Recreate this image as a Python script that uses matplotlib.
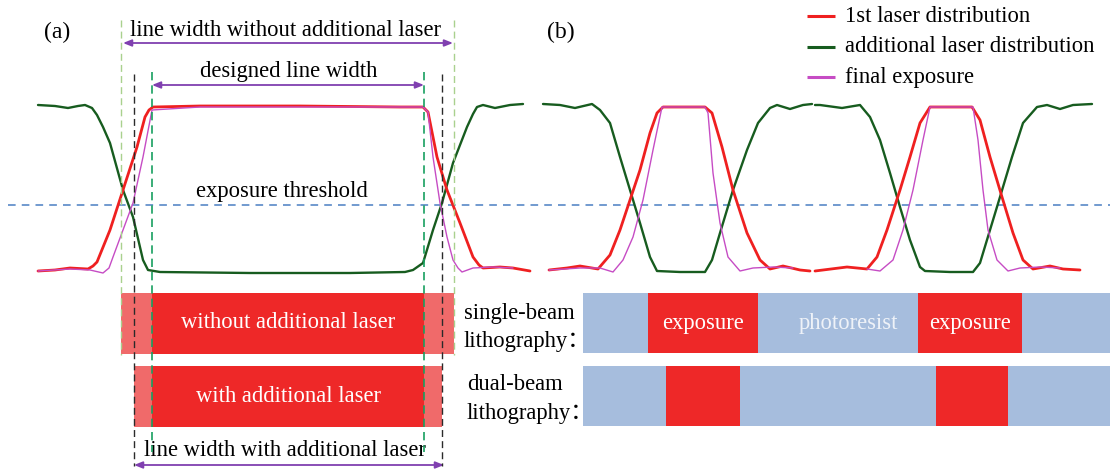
import numpy as np
import matplotlib.pyplot as plt
from matplotlib.patches import Rectangle

plt.rcParams['font.family'] = ['Liberation Serif', 'Noto Sans CJK SC', 'DejaVu Sans']

# curves (pixel units, y grows downward)
# panel (a)
ga_x = [38, 55, 68, 78, 85, 92, 97, 103, 110, 123, 133, 143, 148, 160, 250, 350, 405, 413, 423, 433, 442, 453, 467, 473, 477, 483, 495, 510, 523]
ga_y = [105, 106, 108, 106, 105, 108, 115, 127, 143, 190, 217, 260, 270, 272, 273, 273, 272, 270, 263, 230, 203, 163, 127, 114, 107, 105, 108, 105, 104]
ra_x = [38, 55, 70, 88, 93, 97, 110, 123, 137, 145, 149, 153, 200, 300, 400, 423, 428, 437, 447, 460, 473, 479, 483, 500, 513, 530]
ra_y = [271, 270, 268, 269, 266, 262, 230, 190, 147, 117, 110, 107, 106, 106, 107, 107, 112, 157, 190, 223, 257, 265, 268, 267, 268, 271]
ma_x = [38, 70, 90, 103, 109, 113, 123, 133, 143, 152, 200, 300, 400, 423, 428, 433, 440, 447, 453, 458, 462, 473, 493, 513]
ma_y = [271, 269, 270, 273, 268, 257, 230, 203, 157, 110, 107, 107, 107, 107, 112, 157, 203, 237, 260, 268, 272, 268, 267, 268]

# panel (b), two halves
gb1_x = [543, 560, 575, 592, 600, 610, 620, 630, 640, 650, 657, 680, 705, 712, 720, 733, 747, 758, 770, 777, 790, 803, 812]
gb1_y = [104, 105, 108, 104, 110, 123, 157, 190, 223, 257, 271, 272, 272, 260, 233, 190, 150, 123, 108, 105, 109, 105, 104]
gb2_x = [815, 820, 842, 860, 870, 880, 890, 900, 910, 920, 925, 950, 973, 980, 990, 1000, 1012, 1023, 1037, 1047, 1060, 1073, 1092]
gb2_y = [105, 105, 108, 105, 117, 140, 173, 207, 240, 267, 271, 272, 272, 263, 230, 197, 157, 123, 107, 105, 109, 105, 104]
rb1_x = [549, 567, 580, 598, 610, 620, 630, 640, 650, 657, 663, 685, 705, 712, 722, 733, 747, 760, 770, 783, 800, 810]
rb1_y = [270, 268, 266, 269, 255, 230, 200, 170, 133, 113, 107, 107, 107, 113, 147, 190, 233, 260, 269, 266, 270, 271]
rb2_x = [815, 847, 867, 877, 887, 900, 910, 920, 930, 950, 972, 980, 990, 1002, 1013, 1023, 1033, 1050, 1063, 1080]
rb2_y = [271, 267, 269, 257, 230, 190, 157, 123, 107, 107, 107, 120, 157, 197, 233, 260, 269, 266, 269, 270]
mb1_x = [549, 580, 600, 613, 623, 633, 643, 653, 662, 685, 705, 708, 713, 720, 728, 740, 753, 773, 793]
mb1_y = [270, 268, 268, 272, 260, 237, 200, 150, 107, 107, 107, 113, 173, 223, 257, 271, 268, 267, 268]
mb2_x = [867, 880, 893, 903, 913, 923, 930, 950, 973, 978, 983, 988, 997, 1008, 1020, 1040, 1060]
mb2_y = [269, 271, 260, 230, 190, 140, 107, 107, 107, 140, 190, 230, 260, 271, 268, 267, 268]

threshold_y = 205

# line width marks in panel (a)
outer_x = [121, 454]      # without additional laser
black_x = [134, 442]      # with additional laser
design_x = [152, 424]     # designed line width

# exposed regions in the bars of panel (b)
single_red = [(648, 758), (918, 1022)]
dual_red = [(666, 740), (936, 1008)]

RED = '#ef2020'
GREEN = '#175c1f'
MAGENTA = '#c64cc4'
PURPLE = '#8040b0'
BAR_RED = '#ee2828'
BAR_LIGHT = '#f06a6a'
BAR_BLUE = '#a6bddd'
FS = 16.3

fig = plt.figure(figsize=(11.1, 4.71), dpi=100)
ax = fig.add_axes([0, 0, 1, 1])
ax.set_xlim(0, 1110)
ax.set_ylim(471, 0)
ax.axis('off')

curve_kw = dict(solid_joinstyle='round', solid_capstyle='round')
for xs, ys in [(ga_x, ga_y), (gb1_x, gb1_y), (gb2_x, gb2_y)]:
    ax.plot(xs, ys, color=GREEN, lw=1.7, zorder=4, **curve_kw)
for xs, ys in [(ra_x, ra_y), (rb1_x, rb1_y), (rb2_x, rb2_y)]:
    ax.plot(xs, ys, color=RED, lw=2.0, zorder=5, **curve_kw)
for xs, ys in [(ma_x, ma_y), (mb1_x, mb1_y), (mb2_x, mb2_y)]:
    ax.plot(xs, ys, color=MAGENTA, lw=1.0, zorder=6, **curve_kw)

# exposure threshold
ax.plot([8, 1110], [threshold_y, threshold_y], color='#4a7ec2', lw=1.1,
        dashes=(5, 4), zorder=3)
ax.text(282, 192, 'exposure threshold', fontsize=FS, ha='center', va='center')

# vertical guide lines
for x in outer_x:
    ax.plot([x, x], [20, 355], color='#a9d18e', lw=1.0, dashes=(5, 3), zorder=7)
for x in black_x:
    ax.plot([x, x], [74, 466], color='#2a2a2a', lw=1.0, dashes=(5, 3), zorder=7)
for x in design_x:
    ax.plot([x, x], [72, 452], color='#18a060', lw=1.2, dashes=(5, 3), zorder=7)

arrow_kw = dict(arrowstyle='<|-|>,head_length=0.5,head_width=0.2', color=PURPLE, lw=1.3,
                shrinkA=0, shrinkB=0)
ax.annotate('', xy=(outer_x[0] + 2, 43), xytext=(outer_x[1] - 1, 43), arrowprops=arrow_kw)
ax.annotate('', xy=(design_x[0], 85), xytext=(design_x[1], 85), arrowprops=arrow_kw)
ax.annotate('', xy=(black_x[0], 465), xytext=(black_x[1] + 2, 465), arrowprops=arrow_kw)
ax.text(285, 30, 'line width without additional laser', fontsize=FS, ha='center', va='center')
ax.text(289, 71, 'designed line width', fontsize=FS, ha='center', va='center')
ax.text(285, 451, 'line width with additional laser', fontsize=FS, ha='center', va='center')

ax.text(57, 32, '(a)', fontsize=17, ha='center', va='center')
ax.text(561, 32, '(b)', fontsize=17, ha='center', va='center')

# bars of panel (a)
ax.add_patch(Rectangle((outer_x[0], 293), outer_x[1] - outer_x[0], 61, color=BAR_LIGHT, lw=0, zorder=2))
ax.add_patch(Rectangle((design_x[0], 293), design_x[1] - design_x[0], 61, color=BAR_RED, lw=0, zorder=2))
ax.add_patch(Rectangle((black_x[0], 366), black_x[1] - black_x[0], 61, color=BAR_LIGHT, lw=0, zorder=2))
ax.add_patch(Rectangle((design_x[0], 366), design_x[1] - design_x[0], 61, color=BAR_RED, lw=0, zorder=2))
ax.text(288, 322, 'without additional laser', fontsize=FS, color='white', ha='center', va='center', zorder=8)
ax.text(288, 396, 'with additional laser', fontsize=FS, color='white', ha='center', va='center', zorder=8)

# bars of panel (b)
ax.add_patch(Rectangle((583, 293), 527, 60, color=BAR_BLUE, lw=0, zorder=2))
ax.add_patch(Rectangle((583, 366), 527, 60, color=BAR_BLUE, lw=0, zorder=2))
for a, b in single_red:
    ax.add_patch(Rectangle((a, 293), b - a, 60, color=BAR_RED, lw=0, zorder=3))
    ax.text((a + b) / 2, 323, 'exposure', fontsize=FS, color='white', ha='center', va='center', zorder=8)
for a, b in dual_red:
    ax.add_patch(Rectangle((a, 366), b - a, 60, color=BAR_RED, lw=0, zorder=3))
ax.text(848, 323, 'photoresist', fontsize=FS, color='#eef2f8', ha='center', va='center', zorder=8)

ax.text(464, 313, 'single-beam', fontsize=FS, ha='left', va='center')
ax.text(464, 342, 'lithography\uff1a', fontsize=FS, ha='left', va='center')
ax.text(467, 384, 'dual-beam', fontsize=FS, ha='left', va='center')
ax.text(467, 413, 'lithography\uff1a', fontsize=FS, ha='left', va='center')

# legend
legend_items = ['1st laser distribution', 'additional laser distribution', 'final exposure']
legend_colors = [RED, GREEN, MAGENTA]
legend_y = [16, 47, 77]
for label, c, y in zip(legend_items, legend_colors, legend_y):
    ax.plot([807, 835], [y, y], color=c, lw=2.2, solid_capstyle='butt')
    ax.text(845, y, label, fontsize=FS, ha='left', va='center')

fig.savefig('out.png', dpi=100)
